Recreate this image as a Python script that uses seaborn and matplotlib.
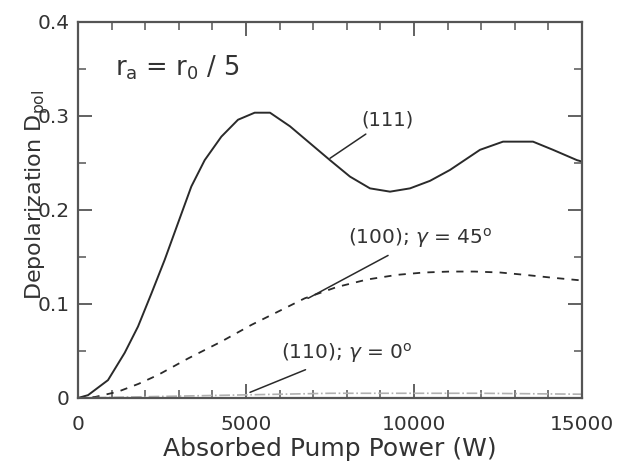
import matplotlib
matplotlib.use("Agg")
import matplotlib.pyplot as plt
import seaborn as sns
from matplotlib.ticker import MultipleLocator

# (111) curve, solid
p111 = [0, 298, 893, 1389, 1786, 2183, 2580, 2976, 3373, 3770, 4266, 4762, 5258,
        5714, 6310, 6905, 7500, 8095, 8690, 9286, 9881, 10476, 11071, 11964,
        12649, 13542, 14137, 14851, 15000]
d111 = [0, 0.003, 0.019, 0.048, 0.076, 0.111, 0.147, 0.186, 0.225, 0.253, 0.278, 0.296, 0.3035,
        0.3035, 0.289, 0.271, 0.253, 0.2355, 0.223, 0.2195, 0.223, 0.231, 0.2426, 0.264,
        0.2727, 0.2727, 0.264, 0.253, 0.2515]

# (100); gamma = 45 deg, dashed
p100 = [0, 500, 1190, 1800, 2381, 3274, 4266, 5158, 6051, 6746, 7700, 8600,
        9500, 10300, 11070, 11800, 12560, 13300, 14100, 15000]
d100 = [0, 0.001, 0.0067, 0.015, 0.0245, 0.042, 0.060, 0.0777, 0.0936, 0.106, 0.118, 0.126,
        0.131, 0.1335, 0.1345, 0.1345, 0.1335, 0.131, 0.128, 0.125]

# (110); gamma = 0 deg, faint dash-dot near zero
p110 = [0, 1500, 3000, 4500, 6000, 7500, 9000, 10500, 12000, 13500, 15000]
d110 = [0, 0.001, 0.002, 0.003, 0.004, 0.005, 0.005, 0.005, 0.005, 0.0045, 0.004]

sns.set_theme(style="ticks")
plt.rcParams['font.family'] = ['DejaVu Sans']
plt.rcParams['mathtext.fontset'] = 'dejavusans'
txt = '#333333'
lc = '#2a2a2a'

fig = plt.figure(figsize=(6.22, 4.61), dpi=100)
ax = fig.add_axes([0.1254, 0.1367, 0.8103, 0.8156])

sns.lineplot(x=p111, y=d111, ax=ax, color=lc, lw=1.4)
sns.lineplot(x=p100, y=d100, ax=ax, color=lc, lw=1.3, linestyle=(0, (4, 4)))
sns.lineplot(x=p110, y=d110, ax=ax, color='#b0b0b0', lw=1.2, linestyle='-.')

ax.set_xlim(0, 15000)
ax.set_ylim(0, 0.4)
ax.xaxis.set_major_locator(MultipleLocator(5000))
ax.xaxis.set_minor_locator(MultipleLocator(1000))
ax.yaxis.set_major_locator(MultipleLocator(0.1))
ax.yaxis.set_minor_locator(MultipleLocator(0.05))
ax.set_yticks([0, 0.1, 0.2, 0.3, 0.4])
ax.set_yticklabels(['0', '0.1', '0.2', '0.3', '0.4'])

ax.tick_params(which='both', direction='in', top=True, right=True, colors='#555555',
               labelcolor=txt, labelsize=14.5)
ax.tick_params(which='major', length=10, width=1.3)
ax.tick_params(which='minor', length=5.5, width=1.1)
ax.tick_params(axis='x', pad=12)
ax.tick_params(axis='y', pad=6)
for s in ax.spines.values():
    s.set_color('#555555')
    s.set_linewidth(1.6)

ax.set_xlabel('Absorbed Pump Power (W)', fontsize=18, color=txt)
ax.set_ylabel('Depolarization D$_\\mathrm{pol}$', fontsize=16, color=txt)
ax.xaxis.set_label_coords(0.5, -0.104)
ax.yaxis.set_label_coords(-0.055, 0.54)

ax.text(0.073, 0.878, 'r$_\\mathrm{a}$ = r$_\\mathrm{0}$ / 5', transform=ax.transAxes,
        fontsize=18.5, color=txt, va='center', ha='left')

ax.annotate('(111)', xy=(7500, 0.255), xytext=(8420, 0.296), fontsize=14, color=txt,
            va='center', ha='left',
            arrowprops=dict(arrowstyle='-', color=lc, lw=1.1, shrinkA=2, shrinkB=0))
ax.annotate('(100); $\\gamma$ = 45$^\\mathrm{o}$', xy=(6845, 0.106), xytext=(8036, 0.170),
            fontsize=14.5, color=txt, va='center', ha='left',
            arrowprops=dict(arrowstyle='-', color=lc, lw=1.1, shrinkA=3, shrinkB=0))
ax.annotate('(110); $\\gamma$ = 0$^\\mathrm{o}$', xy=(5119, 0.006), xytext=(6042, 0.048),
            fontsize=14.5, color=txt, va='center', ha='left',
            arrowprops=dict(arrowstyle='-', color=lc, lw=1.1, shrinkA=3, shrinkB=0))

fig.savefig('out.png', dpi=100)
